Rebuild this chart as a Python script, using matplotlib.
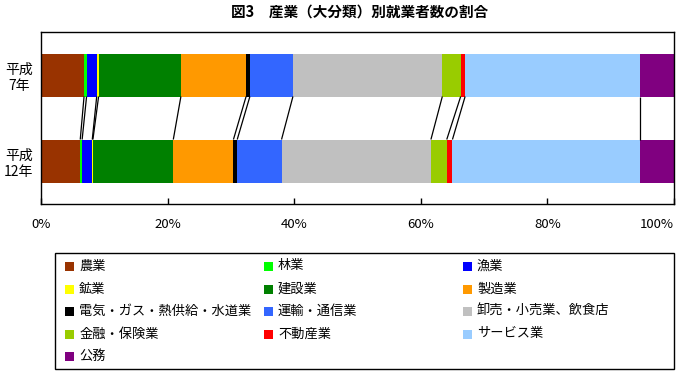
import matplotlib
matplotlib.use("Agg")
import matplotlib.pyplot as plt
from matplotlib.patches import Rectangle
import numpy as np

plt.rcParams['font.family'] = ['Noto Sans CJK JP', 'DejaVu Sans']

years = ["平成\n7年", "平成\n12年"]
industries = ["農業", "林業", "漁業", "鉱業", "建設業", "製造業",
              "電気・ガス・熱供給・水道業", "運輸・通信業", "卸売・小売業、飲食店",
              "金融・保険業", "不動産業", "サービス業", "公務"]
colors = ["#993300", "#00FF00", "#0000FF", "#FFFF00", "#008000", "#FF9900",
          "#000000", "#3366FF", "#C0C0C0", "#99CC00", "#FF0000", "#99CCFF", "#800080"]
h7 = [6.8, 0.4, 1.6, 0.3, 13.0, 10.3, 0.6, 6.8, 23.6, 2.9, 0.7, 27.6, 5.4]
h12 = [6.2, 0.3, 1.6, 0.1, 12.7, 9.5, 0.6, 7.0, 23.6, 2.5, 0.9, 29.6, 5.4]
xticks = [0, 20, 40, 60, 80, 100]
xticklabels = ["0%", "20%", "40%", "60%", "80%", "100%"]

fig = plt.figure(figsize=(6.91, 3.75), dpi=100)
W, H = 691, 375
ax = fig.add_axes([41 / W, 1 - 204 / H, 633 / W, 172 / H])

data = np.array([h7, h12])
ypos = np.arange(len(years))
bh = 0.5
left = np.zeros(len(years))
for i, name in enumerate(industries):
    ax.barh(ypos, data[:, i], left=left, height=bh, color=colors[i],
            edgecolor="none", linewidth=0)
    left = left + data[:, i]

cum = np.cumsum(data, axis=1)
for j in range(len(industries) - 1):
    ax.plot([cum[0, j], cum[1, j]], [ypos[0] + bh / 2, ypos[1] - bh / 2],
            color="black", lw=0.9, solid_capstyle="butt")

ax.set_xlim(0, 100)
ax.set_ylim(1.5, -0.5)
ax.set_xticks(xticks)
ax.set_xticklabels(xticklabels, fontsize=9.5)
xl = ax.get_xticklabels()
xl[-1].set_horizontalalignment("right")
ax.set_yticks(ypos)
ax.set_yticklabels(years, fontsize=10, linespacing=1.25)
for lab in ax.get_yticklabels():
    lab.set_horizontalalignment("center")
    lab.set_multialignment("center")
ax.tick_params(axis="x", direction="in", length=4, width=1, pad=10)
ax.tick_params(axis="y", length=0, pad=16)
for s in ax.spines.values():
    s.set_linewidth(1.0)
    s.set_color("black")

fig.text(360 / W, 1 - 12 / H, "図3　産業（大分類）別就業者数の割合",
         ha="center", va="center", fontsize=10.5, fontweight="bold")

# legend box
lx0, ly0, lx1, ly1 = 55, 253, 674, 369
fig.patches.append(Rectangle((lx0 / W, 1 - ly1 / H), (lx1 - lx0) / W, (ly1 - ly0) / H,
                             transform=fig.transFigure, fill=False,
                             edgecolor="black", lw=1.0))
colx = [65, 264, 463]
rowy = [266, 289, 311, 334, 356]
for k, name in enumerate(industries):
    r, c = divmod(k, 3)
    x, y = colx[c], rowy[r]
    fig.patches.append(Rectangle((x / W, 1 - (y + 5) / H), 9 / W, 9 / H,
                                 transform=fig.transFigure, facecolor=colors[k],
                                 edgecolor="none"))
    fig.text((x + 14) / W, 1 - y / H, name, ha="left", va="center", fontsize=9.5)

fig.savefig("out.png", dpi=100)
